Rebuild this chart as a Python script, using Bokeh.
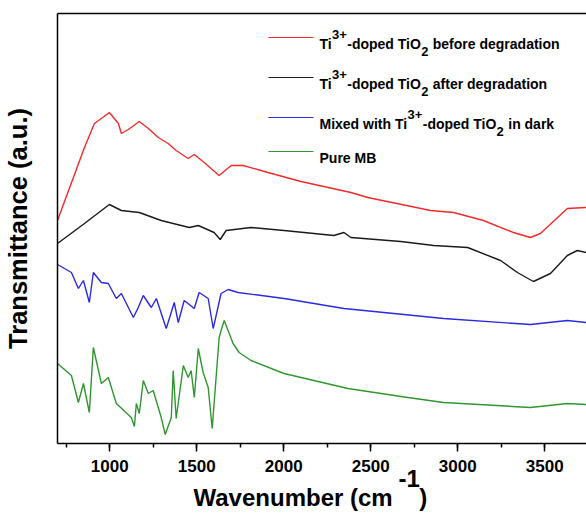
from bokeh.plotting import figure
from bokeh.models import Range1d, LinearAxis, SingleIntervalTicker, FixedTicker, Label, BoxAnnotation, Title
from bokeh.embed import file_html
from bokeh.resources import INLINE

# ---- data (wavenumber in cm-1, transmittance in arbitrary units) ----
wn_before = [700, 855, 912, 952, 998, 1050, 1067, 1107, 1170, 1222, 1279, 1336, 1382, 1451, 1486,
             1543, 1629, 1698, 1767, 1910, 2099, 2386, 2483, 2844, 2976, 3148, 3320, 3418, 3475,
             3630, 3739]
t_before = [223, 296, 320, 325, 331, 320, 310, 314, 322, 315, 306, 300, 293, 285, 289,
            281, 268, 278, 278, 271, 262, 251, 246, 233, 231, 223, 211, 206, 210,
            235, 236]

wn_after = [700, 855, 998, 1067, 1170, 1296, 1457, 1509, 1600, 1635, 1669, 1812, 2002, 2288,
            2346, 2386, 2673, 2862, 3057, 3246, 3343, 3435, 3533, 3630, 3687, 3739]
t_after = [200, 220, 239, 233, 231, 223, 216, 218, 211, 204, 213, 216, 213, 208,
           211, 206, 202, 198, 196, 183, 171, 162, 170, 188, 193, 191]

wn_dark = [700, 780, 820, 849, 883, 906, 952, 992, 1038, 1067, 1136, 1164, 1193, 1239, 1268,
           1325, 1371, 1394, 1428, 1486, 1514, 1566, 1595, 1640, 1681, 1738, 2002, 2346,
           2919, 3418, 3630, 3739]
t_dark = [179, 171, 155, 163, 141, 171, 161, 160, 145, 150, 126, 136, 148, 136, 145,
          115, 141, 121, 143, 135, 151, 145, 115, 150, 154, 151, 145, 135,
          125, 119, 123, 121]

wn_mb = [700, 780, 820, 849, 883, 906, 952, 992, 1038, 1124, 1142, 1153, 1170, 1193, 1222,
         1250, 1296, 1319, 1354, 1365, 1382, 1423, 1451, 1468, 1486, 1509, 1537, 1566, 1589,
         1629, 1640, 1658, 1709, 1744, 1812, 2002, 2369, 2713, 2919, 3418, 3630, 3739]
t_mb = [80, 68, 41, 60, 31, 96, 60, 66, 40, 26, 17, 40, 30, 63, 50,
        53, 26, 9, 26, 73, 25, 78, 66, 73, 46, 95, 71, 56, 15,
        106, 113, 123, 100, 91, 83, 70, 55, 46, 41, 36, 40, 39]

x_ticks_interval = 500
x_label_main = "Wavenumber (cm"
x_label_sup = "-1"
x_label_end = ")"
y_label = "Transmittance (a.u.)"

NB = "\u00a0"
legend_parts = [
    [("Ti", 0), ("3+", 1), ("-doped TiO", 0), ("2", -1), (NB + "before degradation", 0)],
    [("Ti", 0), ("3+", 1), ("-doped TiO", 0), ("2", -1), (NB + "after degradation", 0)],
    [("Mixed with Ti", 0), ("3+", 1), ("-doped TiO", 0), ("2", -1), (NB + "in dark", 0)],
    [("Pure MB", 0)],
]

FONT = "Liberation Sans"
RED, BLACK, BLUE, GREEN = "#f02a2a", "#1a1a1a", "#2a2ae0", "#2f962f"
colors = [RED, BLACK, BLUE, GREEN]

# approximate advance widths (em) of a bold sans face, for chaining text pieces
W = {"T": .611, "i": .278, "3": .556, "+": .584, "-": .333, "d": .611, "o": .611, "p": .611,
     "e": .556, " ": .278, NB: .278, "O": .778, "2": .556, "b": .611, "f": .333, "r": .389,
     "g": .611, "a": .556, "t": .333, "n": .611, "M": .833, "x": .556, "w": .778, "h": .611,
     "k": .556, "u": .611, "P": .667, "B": .722, "c": .556, "m": .889, "W": .944, "v": .556,
     "(": .333, ")": .333, "1": .556}

def tw(s, size):
    return sum(W.get(ch, .6) for ch in s) * size

FRAME_L, FRAME_T, FRAME_B = 56, 13, 443
FIG_W, FIG_H = 586, 514

p = figure(width=FIG_W, height=FIG_H, output_backend="svg", toolbar_location=None,
           x_range=Range1d(700, 3740), y_range=Range1d(0, 430),
           min_border_left=FRAME_L, min_border_right=0, min_border_top=FRAME_T,
           min_border_bottom=FIG_H - FRAME_B)
p.outline_line_color = None
p.xgrid.visible = False
p.ygrid.visible = False
p.background_fill_color = "white"

for wn, t, c in [(wn_before, t_before, RED), (wn_after, t_after, BLACK),
                 (wn_dark, t_dark, BLUE), (wn_mb, t_mb, GREEN)]:
    p.line(wn, t, line_color=c, line_width=1.4)

# x axis
xa = p.xaxis[0]
xa.ticker = SingleIntervalTicker(interval=x_ticks_interval, num_minor_ticks=2)
xa.axis_line_width = 1.5
xa.axis_line_color = "black"
xa.major_tick_in = 0
xa.major_tick_out = 8
xa.minor_tick_in = 0
xa.minor_tick_out = 4
xa.major_tick_line_width = 1.5
xa.minor_tick_line_width = 1.5
xa.major_label_text_font = FONT
xa.major_label_text_font_style = "bold"
xa.major_label_text_font_size = "17px"
xa.major_label_text_color = "black"
xa.major_label_standoff = 8

# y axis
ya = p.yaxis[0]
ya.ticker = FixedTicker(ticks=[])
ya.major_tick_line_color = None
ya.minor_tick_line_color = None
ya.major_tick_out = 0
ya.minor_tick_out = 0
ya.major_label_standoff = 0
ya.major_label_text_font_size = "0px"
ya.axis_line_width = 1.5
ya.axis_line_color = "black"
ya.axis_label = y_label
ya.axis_label_text_font = FONT
ya.axis_label_text_font_style = "bold"
ya.axis_label_text_font_size = "25.5px"
ya.axis_label_text_color = "black"
ya.axis_label_standoff = 26

# top border
top = LinearAxis(ticker=FixedTicker(ticks=[]), major_label_text_font_size="0px",
                 major_tick_line_color=None, minor_tick_line_color=None,
                 major_tick_out=0, minor_tick_out=0, major_label_standoff=0,
                 axis_line_width=1.5, axis_line_color="black")
p.add_layout(top, "above")

# x axis title with a raised "-1", as two title rows in the bottom panel
XL_SIZE = 24
xl_start = 192 - FRAME_L
sup_title = Title(text=x_label_sup, align="left", offset=xl_start + tw(x_label_main, XL_SIZE) + 5,
                  text_font=FONT, text_font_style="bold", text_font_size=f"{XL_SIZE}px",
                  text_color="black", vertical_align="top", standoff=-9)
main_title = Title(text=x_label_main + NB * 4 + x_label_end, align="left",
                   offset=xl_start, text_font=FONT, text_font_style="bold",
                   text_font_size=f"{XL_SIZE}px", text_color="black",
                   vertical_align="bottom", standoff=-6)
p.add_layout(sup_title, "below")
p.add_layout(main_title, "below")

# legend
def lab(text, x, y, size):
    p.add_layout(Label(x=x, y=y, x_units="screen", y_units="screen", text=text,
                       text_font=FONT, text_font_style="bold", text_font_size=f"{size}px",
                       text_color="black", text_align="left", text_baseline="alphabetic"))

LG_SIZE, LG_SMALL = 14, 13
line_page_y = [37, 77, 117, 151]
line_x0, line_x1, text_x0 = 267 - FRAME_L, 312 - FRAME_L, 318 - FRAME_L
for color, parts, py in zip(colors, legend_parts, line_page_y):
    ly = FRAME_B - py
    p.add_layout(BoxAnnotation(left=line_x0, right=line_x1, bottom=ly - 0.6, top=ly + 0.6,
                               left_units="screen", right_units="screen",
                               bottom_units="screen", top_units="screen",
                               fill_color=color, fill_alpha=1.0, line_color=None))
    x = text_x0
    base = ly - 6
    for text, kind in parts:
        size = LG_SIZE if kind == 0 else LG_SMALL
        lab(text, x, base + (9 if kind == 1 else (-8 if kind == -1 else 0)), size)
        x += tw(text, size) + (0.5 if kind != 0 else 0)

open("out.html", "w").write(file_html(p, INLINE))
